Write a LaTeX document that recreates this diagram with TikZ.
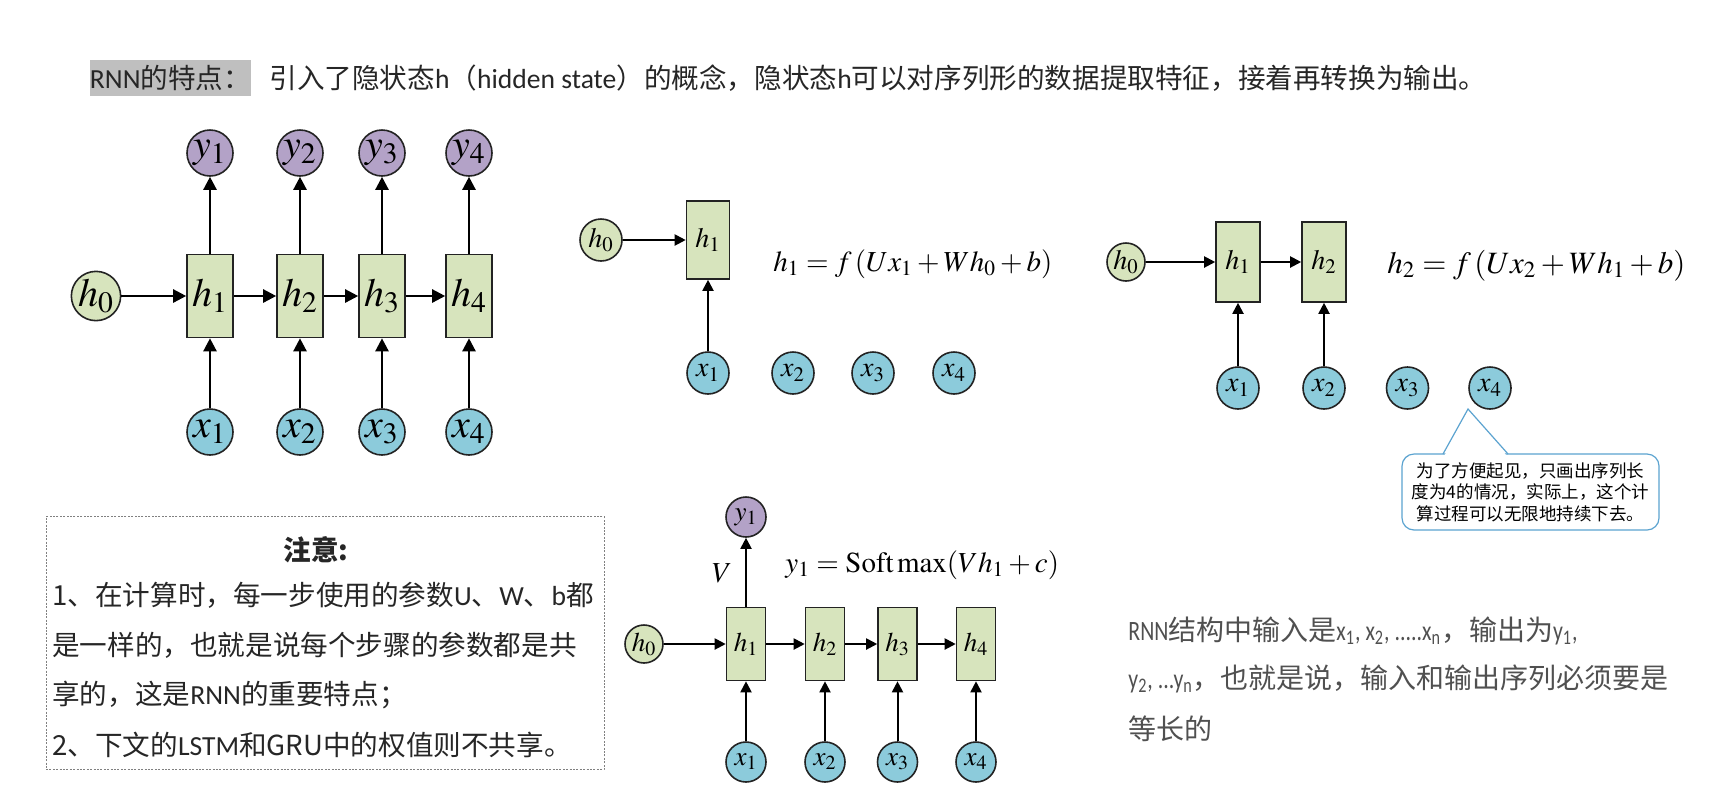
\documentclass[tikz,border=0pt]{standalone}
\usepackage{mathptmx}
\usepackage{fontspec}
\newfontfamily\cjk{Noto Sans CJK SC}
\newfontfamily\lat{Carlito}
\newfontfamily\latn[FakeStretch=0.78]{Carlito}
\usetikzlibrary{arrows.meta}
\definecolor{boxgreen}{RGB}{215,228,189}
\definecolor{inblue}{RGB}{140,203,219}
\definecolor{outpurple}{RGB}{179,162,199}
\definecolor{edge}{RGB}{35,35,35}
\definecolor{callblue}{RGB}{91,163,208}
\definecolor{titlegray}{RGB}{191,191,191}
\definecolor{txt}{RGB}{38,38,38}
\definecolor{txtb}{RGB}{80,80,80}
\newcommand\szA{\fontsize{20}{22}\selectfont}
\newcommand\szB{\fontsize{14}{16}\selectfont}
\newcommand\szD{\fontsize{13.5}{16}\selectfont}
\newcommand\szF{\fontsize{14.5}{16}\selectfont}
\newcommand\szG{\fontsize{15.5}{17}\selectfont}
\newcommand\szT{\fontsize{13.8}{16}\selectfont}
\newcommand\szN{\fontsize{13.8}{16}\selectfont}
\newcommand\szR{\fontsize{14}{16}\selectfont}
\newcommand\szC{\fontsize{8.75}{10.8}\selectfont}
\begin{document}
\begin{tikzpicture}[x=0.5pt,y=-0.5pt,
  circ/.style={circle,draw=edge,line width=0.8pt,inner sep=0pt},
  hb/.style={rectangle,draw=edge,line width=0.8pt,fill=boxgreen,inner sep=0pt},
  bigarr/.style={-{Triangle[length=6.5pt,width=6.5pt]},line width=1.2pt},
  arr/.style={-{Triangle[length=5.5pt,width=5.5pt]},line width=1pt},
  cjktext/.style={inner sep=0pt,font=\cjk\szN,text=txt}]
\useasboundingbox[fill=white] (0,0) rectangle (1712,800);

% ---------- title ----------
\node[fill=titlegray,minimum width=80.5pt,minimum height=18pt,inner sep=0pt,font=\cjk\szT,text=txt] (tag) at (170.5,78) {{\lat RNN}的特点：};
\node[anchor=west,inner sep=0pt,font=\cjk\szT,text=txt] (title) at (269,78) {引入了隐状态{\lat h}（{\lat hidden state}）的概念，隐状态{\lat h}可以对序列形的数据提取特征，接着再转换为输出。};

% ---------- top-left full RNN ----------
\node[circ,fill=boxgreen,minimum size=23pt,font=\szA] (a0) at (96,296) {$h_0$};
\foreach \i/\x in {1/210,2/300,3/382,4/469} {
  \node[hb,minimum width=23pt,minimum height=41.5pt,font=\szA] (ah\i) at (\x,296) {$h_{\i}$};
  \node[circ,fill=outpurple,minimum size=23pt,font=\szA] (ay\i) at (\x,153) {$y_{\i}$};
  \node[circ,fill=inblue,minimum size=23pt,font=\szA] (ax\i) at (\x,432) {$x_{\i}$};
  \draw[bigarr] (ax\i) -- (ah\i);
  \draw[bigarr] (ah\i) -- (ay\i);
}
\draw[bigarr] (a0) -- (ah1);
\foreach \i/\j in {1/2,2/3,3/4} \draw[bigarr] (ah\i) -- (ah\j);

% ---------- step 1 ----------
\node[circ,fill=boxgreen,minimum size=21pt,font=\szB] (b0) at (601,240) {$h_0$};
\node[hb,minimum width=21.5pt,minimum height=39pt,font=\szB] (bh1) at (708,240) {$h_1$};
\foreach \i/\x in {1/708,2/793,3/873,4/954}
  \node[circ,fill=inblue,minimum size=21pt,font=\szB] (bx\i) at (\x,373) {$x_{\i}$};
\draw[arr] (b0) -- (bh1);
\draw[arr] (bx1) -- (bh1);
\node[anchor=base west,inner sep=0pt,font=\szF] (feq1) at (773,271) {$h_1 = f\,(Ux_1 + Wh_0 + b)$};

% ---------- step 2 ----------
\node[circ,fill=boxgreen,minimum size=19pt,font=\szB] (c0) at (1126,262) {$h_0$};
\foreach \i/\x in {1/1238,2/1324}
  \node[hb,minimum width=22pt,minimum height=40pt,font=\szB] (ch\i) at (\x,262) {$h_{\i}$};
\foreach \i/\x in {1/1238,2/1324,3/1407.5,4/1490}
  \node[circ,fill=inblue,minimum size=21pt,font=\szB] (cx\i) at (\x,388) {$x_{\i}$};
\draw[arr] (c0) -- (ch1);
\draw[arr] (ch1) -- (ch2);
\draw[arr] (cx1) -- (ch1);
\draw[arr] (cx2) -- (ch2);
\node[anchor=base west,inner sep=0pt,font=\szG] (feq2) at (1387,273) {$h_2 = f\,(Ux_2 + Wh_1 + b)$};

% ---------- callout ----------
\node[draw=callblue,line width=0.6pt,fill=white,rounded corners=6pt,minimum width=128.5pt,minimum height=38pt,inner sep=0pt,align=center,font=\cjk\szC,text=black] (callout) at (1530.5,492) {为了方便起见，只画出序列长\\度为4的情况，实际上，这个计\\算过程可以无限地持续下去。};
\fill[white] (1444.5,455.5) -- (1468,411) -- (1506.5,455.5) -- cycle;
\draw[callblue,line width=0.6pt,line join=miter] (1443,454) -- (1468,409) -- (1508,454);

% ---------- notice box ----------
\node[draw=gray,dash pattern=on 1pt off 0.7pt,line width=0.4pt,minimum width=279pt,minimum height=126.5pt,inner sep=0pt] (notebox) at (325,643) {};
\node[cjktext,font=\cjk\bfseries\szN] (n0) at (316,550) {注意:};
\node[cjktext,anchor=west] (n1) at (52,595) {1、在计算时，每一步使用的参数{\lat U}、{\lat W}、{\lat b}都};
\node[cjktext,anchor=west] (n2) at (52,645) {是一样的，也就是说每个步骤的参数都是共};
\node[cjktext,anchor=west] (n3) at (52,695) {享的，这是{\lat RNN}的重要特点；};
\node[cjktext,anchor=west] (n4) at (52,745) {2、下文的{\lat LSTM}和GRU中的权值则不共享。};

% ---------- output step ----------
\node[circ,fill=boxgreen,minimum size=19pt,font=\szD] (d0) at (644,644) {$h_0$};
\foreach \i/\x in {1/746,2/825,3/897.5,4/976} {
  \node[hb,minimum width=19.5pt,minimum height=36.5pt,font=\szD] (dh\i) at (\x,644) {$h_{\i}$};
  \node[circ,fill=inblue,minimum size=20pt,font=\szD] (dx\i) at (\x,762) {$x_{\i}$};
  \draw[arr] (dx\i) -- (dh\i);
}
\node[circ,fill=outpurple,minimum size=20pt,font=\szD] (dy1) at (746,517) {$y_1$};
\draw[arr] (d0) -- (dh1);
\foreach \i/\j in {1/2,2/3,3/4} \draw[arr] (dh\i) -- (dh\j);
\draw[arr] (dh1) -- (dy1);
\node[anchor=base,inner sep=0pt,font=\szF] (vlab) at (722,582) {$V$};
\node[anchor=base west,inner sep=0pt,font=\szF] (feq3) at (785,572) {$y_1 = \mathrm{Soft\,max}(Vh_1 + c)$};

% ---------- bottom-right text ----------
\node[cjktext,font=\cjk\szR,anchor=west,text=txtb] (r1) at (1128,631) {{\latn RNN}结构中输入是{\latn x\textsubscript{1}, x\textsubscript{2}, .....x\textsubscript{n}}，输出为{\latn y\textsubscript{1},}};
\node[cjktext,font=\cjk\szR,anchor=west,text=txtb] (r2) at (1128,679) {{\latn y\textsubscript{2}, ...y\textsubscript{n}}，也就是说，输入和输出序列必须要是};
\node[cjktext,font=\cjk\szR,anchor=west,text=txtb] (r3) at (1128,729) {等长的};
\end{tikzpicture}
\end{document}
